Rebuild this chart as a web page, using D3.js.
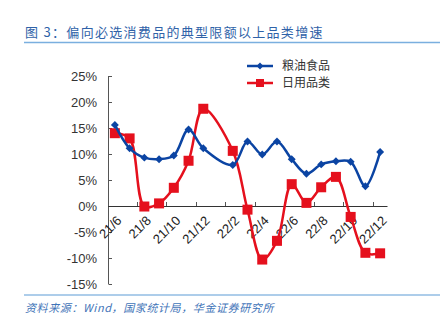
<!DOCTYPE html>
<html><head><meta charset="utf-8">
<script src="https://cdn.jsdelivr.net/npm/d3@7"></script>
<style>
html,body{margin:0;padding:0;background:#fff;}
svg{display:block;}
</style></head>
<body>
<svg id="c" width="445" height="331"></svg>
<script>
const categories = ["21/6","21/7","21/8","21/9","21/10","21/11","21/12","22/1","22/2","22/3","22/4","22/5","22/6","22/7","22/8","22/9","22/10","22/11","22/12"];
const grainOil = [15.6,11.1,9.3,9.0,9.7,14.7,11.1,null,7.9,12.4,9.9,12.4,9.0,6.2,8.0,8.6,8.5,3.8,10.4];
const dailyUse = [14.0,13.0,-0.1,0.5,3.5,8.7,18.7,null,10.6,-0.7,-10.3,-6.7,4.2,0.6,3.6,5.6,-2.1,-9.0,-9.1];
const yTicks = [25,20,15,10,5,0,-5,-10,-15];
const seriesNames = ["粮油食品","日用品类"];
const titleText = "图 3：偏向必选消费品的典型限额以上品类增速";
const sourceText = "资料来源：Wind，国家统计局，华金证券研究所";

const svg = d3.select("#c");
const blue = "#0b44a3", red = "#e5101d";

// title
svg.append("text").attr("x",25).attr("y",37).attr("font-family","Noto Sans CJK SC").attr("font-size",13)
  .attr("letter-spacing",1.3).attr("fill","#2f62a8").text(titleText);
svg.append("line").attr("x1",24).attr("x2",440).attr("y1",42.5).attr("y2",42.5).attr("stroke","#7aafdf").attr("stroke-width",1.5);

// footer
svg.append("line").attr("x1",24).attr("x2",440).attr("y1",295).attr("y2",295).attr("stroke","#5d9bd6").attr("stroke-width",1.2);
svg.append("text").attr("x",25).attr("y",312).attr("font-family","Noto Sans CJK SC").attr("font-size",11)
  .attr("font-style","italic").attr("letter-spacing",0.6).attr("fill","#3f74b8").text(sourceText);

const x = d3.scaleBand().domain(categories).range([107.5,387.5]);
const cx = d => x(d) + x.bandwidth()/2;
const y = d3.scaleLinear().domain([-15,25]).range([284,76]);

// y axis
const gy = svg.append("g");
gy.append("line").attr("x1",108.5).attr("x2",108.5).attr("y1",y(25)).attr("y2",y(-15)).attr("stroke","#555");
yTicks.forEach(t=>{
  gy.append("line").attr("x1",108.5).attr("x2",112).attr("y1",y(t)+0.5).attr("y2",y(t)+0.5).attr("stroke","#555");
  gy.append("text").attr("x",97).attr("y",y(t)).attr("dy","0.36em").attr("text-anchor","end")
    .attr("font-family","Liberation Sans, Arial").attr("font-size",13).attr("fill","#333").text(t+"%");
});

// x axis at zero
const gx = svg.append("g");
gx.append("line").attr("x1",108).attr("x2",387.5).attr("y1",y(0)+0.5).attr("y2",y(0)+0.5).attr("stroke","#333");
categories.forEach((c,i)=>{
  if (i%2===1 && i<categories.length-1) {
    const tx = Math.round(x(c)+x.bandwidth())+0.5;
    gx.append("line").attr("x1",tx).attr("x2",tx).attr("y1",y(0)).attr("y2",y(0)-4).attr("stroke","#555");
  }
  if (i%2===0) {
    gx.append("text").attr("transform",`translate(${cx(c)+1},${y(0)+9}) rotate(-45)`)
      .attr("text-anchor","end").attr("dy","0.7em")
      .attr("font-family","Liberation Sans, Arial").attr("font-size",13).attr("fill","#222").text(c);
  }
});

const line = d3.line().defined(d=>d.v!==null).x(d=>cx(d.c)).y(d=>y(d.v)).curve(d3.curveCatmullRom.alpha(0.5));
const mk = arr => categories.map((c,i)=>({c, v:arr[i]})).filter(d=>d.v!==null);

// red series
const rd = mk(dailyUse);
svg.append("path").datum(rd).attr("d",line).attr("fill","none").attr("stroke",red).attr("stroke-width",2.5);
svg.selectAll(".sq").data(rd).join("rect").attr("x",d=>cx(d.c)-5).attr("y",d=>y(d.v)-5)
  .attr("width",10).attr("height",10).attr("fill",red);

// blue series
const bd = mk(grainOil);
svg.append("path").datum(bd).attr("d",line).attr("fill","none").attr("stroke",blue).attr("stroke-width",2.5);
const diamond = d3.symbol().type(d3.symbolDiamond2).size(40);
svg.selectAll(".dm").data(bd).join("path").attr("d",diamond)
  .attr("transform",d=>`translate(${cx(d.c)},${y(d.v)})`).attr("fill",blue);

// legend
const lg = svg.append("g");
[[blue,"dm"],[red,"sq"]].forEach(([col,t],i)=>{
  const ly = 66 + i*17;
  lg.append("line").attr("x1",247).attr("x2",273).attr("y1",ly).attr("y2",ly).attr("stroke",col).attr("stroke-width",2.5);
  if (t==="dm") lg.append("path").attr("d",d3.symbol().type(d3.symbolDiamond2).size(30)).attr("transform",`translate(260,${ly})`).attr("fill",col);
  else lg.append("rect").attr("x",256).attr("y",ly-4).attr("width",8).attr("height",8).attr("fill",col);
  lg.append("text").attr("x",282).attr("y",ly).attr("dy","0.36em").attr("font-family","Noto Sans CJK SC")
    .attr("font-size",12).attr("fill","#333").text(seriesNames[i]);
});
</script>
</body></html>
